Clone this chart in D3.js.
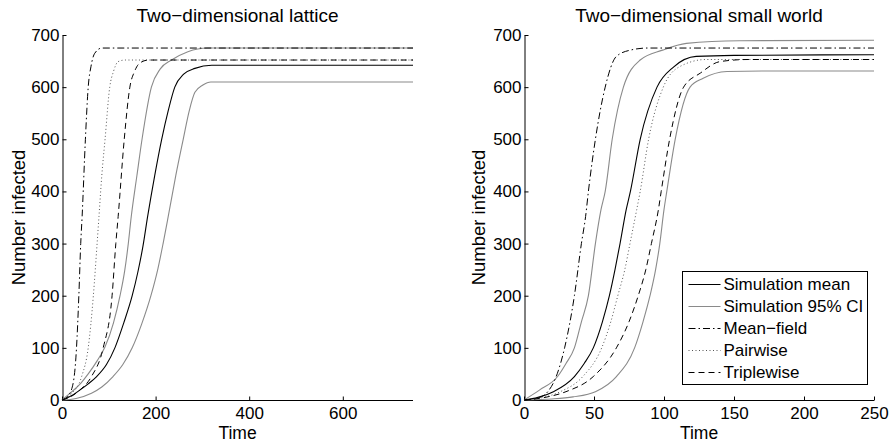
<!DOCTYPE html>
<html>
<head>
<meta charset="utf-8">
<script src="https://cdn.jsdelivr.net/npm/d3@7"></script>
<style>
  body { margin: 0; background: #fff; }
  svg { font-family: "Liberation Sans", Arial, Helvetica, sans-serif; }
</style>
</head>
<body>
<svg id="chart" width="895" height="443"></svg>
<script>
// values: [time, number infected]
var latticeMean = [[0,0],[20,8],[38,19],[56,31],[74,45],[95,68],[113,100],[132,148],[150,200],[162,245],[173,295],[183,352],[198,430],[213,500],[227,555],[241,600],[260,625],[284,636],[320,642],[750,642]];
var latticeUpper = [[0,0],[20,15],[40,32],[56,50],[75,75],[92,102],[110,148],[124,200],[134,248],[141,295],[148,352],[160,430],[171,500],[191,600],[210,635],[234,652],[269,668],[311,675],[750,675]];
var latticeLower = [[0,0],[30,3],[63,13],[85,25],[109,45],[130,68],[150,100],[170,145],[190,200],[205,252],[216,300],[227,352],[243,430],[259,500],[272,555],[284,590],[301,604],[318,610],[750,610]];
var latticeMeanField = [[0,0],[10,5],[22,25],[31,100],[36,200],[40,300],[43,352],[50,500],[56,600],[62,640],[70,665],[85,675],[750,675]];
var latticePairwise = [[0,0],[20,12],[42,45],[56,100],[67,200],[75,300],[79,352],[85,430],[92,500],[102,600],[110,630],[120,649],[135,652],[750,652]];
var latticeTriplewise = [[0,0],[20,7],[38,19],[63,45],[88,100],[107,200],[115,300],[120,352],[133,500],[145,600],[155,630],[166,646],[185,652],[750,652]];

var smallMean = [[0,0],[10,5],[21,16],[36,45],[43,70],[49.5,100],[56,150],[61,200],[65,250],[68.6,300],[73,365],[76,400],[83,500],[95,600],[107,639],[123,659],[150,661],[250,662]];
var smallUpper = [[0,0],[11,19],[24,45],[30,70],[36,100],[41,150],[46,200],[51,300],[55,365],[58,400],[63,500],[71,600],[83,652],[99,671],[116,684],[154,689],[250,690]];
var smallLower = [[0,0],[20,2],[35,6],[51,16],[66,45],[79,100],[85,150],[90,200],[94,250],[97,300],[100,365],[102,400],[108,500],[118.6,600],[128,617],[145,630],[170,631],[250,631]];
var smallMeanField = [[0,0],[10,4],[17,16],[23,45],[29,100],[36,200],[41,300],[44,352],[46,400],[51,500],[58,600],[66,659],[76,671],[88,675],[250,675]];
var smallPairwise = [[0,0],[12,4],[26,16],[42,45],[55.5,100],[62,150],[67,200],[72,250],[75.7,300],[80.5,365],[83,400],[89,500],[99.5,600],[111,639],[130,653],[250,653]];
var smallTriplewise = [[0,0],[15,5],[30,16],[49.5,45],[66,100],[75,150],[81.6,200],[87,250],[91,300],[96,365],[98,400],[104,500],[114,600],[126,627],[140,649],[160,653],[250,653]];

var yTicks = [0, 100, 200, 300, 400, 500, 600, 700];
var latticeXTicks = [0, 200, 400, 600];
var smallXTicks = [0, 50, 100, 150, 200, 250];
var legendLabels = ["Simulation mean", "Simulation 95% CI", "Mean\u2212field", "Pairwise", "Triplewise"];

// styles for the five kinds of line
var styles = {
    mean: { color: "#000", dash: null, width: 1.1 },
    ci: { color: "#8a8a8a", dash: null, width: 1.1 },
    mf: { color: "#000", dash: "7,3,1.5,3", width: 1 },
    pw: { color: "#555", dash: "1,2.5", width: 1 },
    tw: { color: "#000", dash: "6,4", width: 1 }
};
var legendStyles = ["mean", "ci", "mf", "pw", "tw"];

const svg = d3.select("#chart");

function drawPanel(opts) {
    let x = d3.scaleLinear().domain(opts.xDomain).range(opts.xRange);
    let y = d3.scaleLinear().domain([0, 700]).range([400, 35]);

    const g = svg.append("g");

    let axisX = d3.axisBottom(x).tickValues(opts.xTicks).tickSize(-4).tickSizeOuter(0).tickPadding(6);
    let axisY = d3.axisLeft(y).tickValues(yTicks).tickSize(-4).tickSizeOuter(0).tickPadding(3);

    let gx = g.append("g").attr("transform", "translate(0,400.5)").call(axisX);
    let gy = g.append("g").attr("transform", "translate(" + (opts.xRange[0] + 0.5) + ",0)").call(axisY);
    [gx, gy].forEach(function (a) {
        a.selectAll("text").style("font-size", "17px").attr("fill", "#000");
        a.selectAll("line, path").attr("stroke", "#000");
    });
    // x domain line should run the full width
    gx.select(".domain").attr("d", "M" + opts.xRange[0] + ",0H" + opts.xRange[1]);

    let line = d3.line()
        .x(d => x(d[0]))
        .y(d => y(d[1]))
        .curve(d3.curveMonotoneX);

    opts.series.forEach(function (s) {
        let st = styles[s.style];
        g.append("path")
            .datum(s.data)
            .attr("d", line)
            .attr("fill", "none")
            .attr("stroke", st.color)
            .attr("stroke-width", st.width)
            .attr("stroke-dasharray", st.dash);
    });

    let cx = (opts.xRange[0] + opts.xRange[1]) / 2;
    g.append("text").attr("x", cx).attr("y", 22).attr("text-anchor", "middle")
        .style("font-size", "19px").text(opts.title);
    g.append("text").attr("x", cx).attr("y", 438.5).attr("text-anchor", "middle")
        .style("font-size", "17.5px").text("Time");
    g.append("text")
        .attr("transform", "translate(" + opts.yLabelX + ",217.5) rotate(-90)")
        .attr("text-anchor", "middle")
        .style("font-size", "18.5px").text("Number infected");
}

drawPanel({
    title: "Two\u2212dimensional lattice",
    xDomain: [0, 750], xRange: [62, 413], xTicks: latticeXTicks, yLabelX: 25,
    series: [
        { data: latticeUpper, style: "ci" },
        { data: latticeLower, style: "ci" },
        { data: latticeMean, style: "mean" },
        { data: latticeMeanField, style: "mf" },
        { data: latticePairwise, style: "pw" },
        { data: latticeTriplewise, style: "tw" }
    ]
});

drawPanel({
    title: "Two\u2212dimensional small world",
    xDomain: [0, 250], xRange: [524, 874], xTicks: smallXTicks, yLabelX: 485,
    series: [
        { data: smallUpper, style: "ci" },
        { data: smallLower, style: "ci" },
        { data: smallMean, style: "mean" },
        { data: smallMeanField, style: "mf" },
        { data: smallPairwise, style: "pw" },
        { data: smallTriplewise, style: "tw" }
    ]
});

// legend
const lg = svg.append("g").attr("transform", "translate(682.5,271.5)");
lg.append("rect").attr("width", 185).attr("height", 113)
    .attr("fill", "#fff").attr("stroke", "#000").attr("stroke-width", 1);
legendLabels.forEach(function (lab, i) {
    let st = styles[legendStyles[i]];
    let yy = 13 + i * 22;
    lg.append("line").attr("x1", 6).attr("x2", 38).attr("y1", yy).attr("y2", yy)
        .attr("stroke", st.color).attr("stroke-width", st.width)
        .attr("stroke-dasharray", st.dash);
    lg.append("text").attr("x", 41).attr("y", yy).attr("dy", "0.35em")
        .style("font-size", "17px").text(lab);
});
</script>
</body>
</html>
